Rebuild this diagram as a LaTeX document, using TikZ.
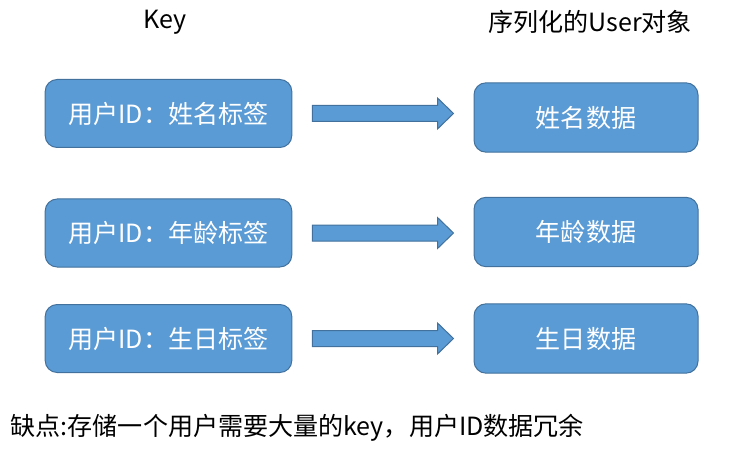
\documentclass[tikz,border=0pt]{standalone}
\usepackage{fontspec}
\setmainfont{Noto Sans CJK SC}
\usetikzlibrary{calc}
\definecolor{boxfill}{HTML}{5B9BD5}
\definecolor{boxline}{HTML}{41719C}
\tikzset{
  keybox/.style={draw=boxline,fill=boxfill,line width=0.75pt,rounded corners=9pt,
    minimum width=185pt,minimum height=51pt,text=white,font=\fontsize{18.8}{22}\selectfont},
  valbox/.style={keybox,minimum width=168pt,minimum height=52pt},
  head/.style={font=\fontsize{18.8}{22}\selectfont},
  blockarrow/.style={draw=boxline,fill=boxfill,line width=0.75pt}
}
\begin{document}
\begin{tikzpicture}[x=0.75pt,y=0.75pt]
  \useasboundingbox (0,0) rectangle (730,450);
  % column titles
  \node[head] (hkey) at (165,428) {Key};
  \node[head] (hval) at (590,428) {序列化的User对象};
  % keys
  \node[keybox] (k1) at (168.5,336.5) {用户ID：姓名标签};
  \node[keybox] (k2) at (168.5,217) {用户ID：年龄标签};
  \node[keybox] (k3) at (168.5,111.5) {用户ID：生日标签};
  % values
  \node[valbox] (v1) at (586,332.5) {姓名数据};
  \node[valbox] (v2) at (586,218) {年龄数据};
  \node[valbox] (v3) at (586,111.5) {生日数据};
  % block arrows
  \foreach \i in {1,2,3} {
    \coordinate (s\i) at ($(k\i.east)+(20,0)$);
    \coordinate (t\i) at ($(s\i -| v\i.west)+(-20,0)$);
    \path[blockarrow] ($(s\i)+(0,8)$) -- ($(t\i)+(-16,8)$) -- ($(t\i)+(-16,15.5)$)
      -- (t\i) -- ($(t\i)+(-16,-15.5)$) -- ($(t\i)+(-16,-8)$) -- ($(s\i)+(0,-8)$) -- cycle;
  }
  \node[head,anchor=west] (note) at (6,22) {缺点:存储一个用户需要大量的key，用户ID数据冗余};
\end{tikzpicture}
\end{document}
